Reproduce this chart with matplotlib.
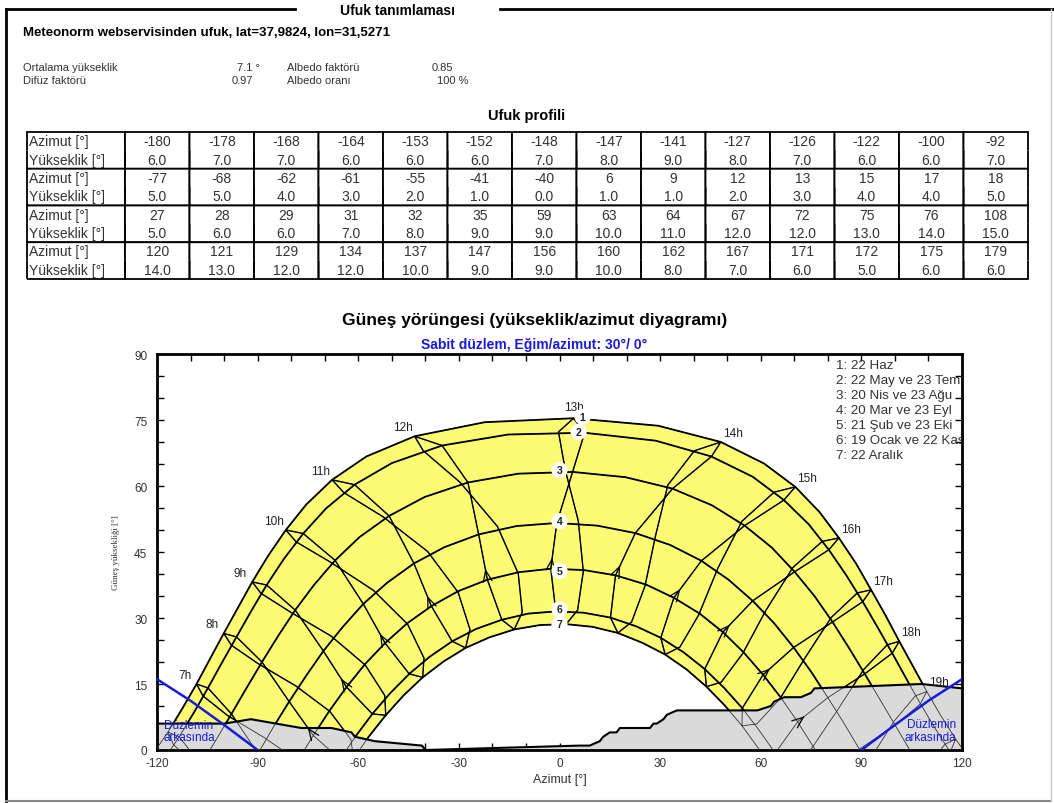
import numpy as np
import matplotlib.pyplot as plt
from matplotlib.patches import Polygon
from matplotlib.ticker import MultipleLocator

plt.rcParams['font.family'] = ['Liberation Sans', 'DejaVu Sans']
plt.rcParams['axes.unicode_minus'] = False

W, H = 1054, 804


def fx(px):
    return px / W


def fy(py):
    return 1 - py / H


# horizon profile table
hor_az = [-180, -178, -168, -164, -153, -152, -148, -147, -141, -127, -126, -122, -100, -92,
          -77, -68, -62, -61, -55, -41, -40, 6, 9, 12, 13, 15, 17, 18,
          27, 28, 29, 31, 32, 35, 59, 63, 64, 67, 72, 75, 76, 108,
          120, 121, 129, 134, 137, 147, 156, 160, 162, 167, 171, 172, 175, 179]
hor_el = [6, 7, 7, 6, 6, 6, 7, 8, 9, 8, 7, 6, 6, 7,
          5, 5, 4, 3, 2, 1, 0, 1, 1, 2, 3, 4, 4, 5,
          5, 6, 6, 7, 8, 9, 9, 10, 11, 12, 12, 13, 14, 15,
          14, 13, 12, 12, 10, 9, 9, 10, 8, 7, 6, 5, 6, 6]

# sun path, every half hour (legal time), first point at t0
jun_t0 = 5.0
jun_az = [-126.1, -121.3, -116.7, -112.4, -108.2, -104.2, -100.1, -95.9, -91.6, -86.9, -81.6, -75.5,
          -67.8, -57.6, -43.2, -22.3, 4.2, 29.4, 48.1, 61.0, 70.3, 77.5, 83.3, 88.4, 92.9, 97.2,
          101.3, 105.4, 109.5, 113.7, 118.1, 122.7, 127.6]
jun_el = [-6.0, -1.0, 4.1, 9.5, 15.0, 20.7, 26.5, 32.3, 38.2, 44.1, 50.0, 55.8, 61.4, 66.7, 71.3, 74.5,
          75.4, 73.7, 70.0, 65.1, 59.8, 54.1, 48.2, 42.4, 36.4, 30.6, 24.7, 19.0, 13.3, 7.8, 2.5, -2.6, -7.4]
may_t0 = 5.0
may_az = [-122.9, -118.1, -113.4, -109.0, -104.8, -100.6, -96.3, -91.9, -87.3, -82.2, -76.4, -69.6,
          -61.1, -50.0, -35.0, -15.3, 7.5, 28.7, 45.3, 57.6, 66.9, 74.3, 80.3, 85.6, 90.4, 94.9,
          99.2, 103.4, 107.6, 112.0, 116.5, 121.3]
may_el = [-7.5, -2.4, 3.0, 8.5, 14.1, 19.9, 25.7, 31.6, 37.5, 43.4, 49.2, 54.9, 60.3, 65.2, 69.2, 71.7,
          72.1, 70.3, 66.7, 62.1, 56.8, 51.3, 45.5, 39.6, 33.7, 27.8, 22.0, 16.2, 10.5, 4.9, -0.5, -5.6]
apr_t0 = 6.0
apr_az = [-106.9, -102.3, -97.8, -93.3, -88.7, -83.9, -78.8, -73.2, -66.9, -59.6, -50.8, -40.2, -27.3,
          -12.3, 3.9, 19.7, 33.7, 45.5, 55.2, 63.3, 70.1, 76.1, 81.4, 86.3, 91.0, 95.6, 100.1, 104.6, 109.3]
apr_el = [-3.3, 2.4, 8.2, 14.1, 20.0, 25.9, 31.8, 37.5, 43.1, 48.4, 53.2, 57.5, 60.8, 62.8, 63.2, 62.0,
          59.4, 55.6, 51.0, 46.0, 40.5, 34.9, 29.1, 23.2, 17.3, 11.4, 5.6, -0.2, -5.9]
mar_t0 = 6.5
mar_az = [-94.5, -89.9, -85.3, -80.6, -75.6, -70.4, -64.7, -58.5, -51.4, -43.4, -34.3, -24.1, -12.8,
          -0.8, 11.2, 22.6, 33.0, 42.3, 50.4, 57.6, 64.0, 69.8, 75.1, 80.0, 84.8, 89.4, 94.1]
mar_el = [-6.7, -0.8, 5.2, 11.0, 16.8, 22.5, 27.9, 33.2, 38.0, 42.4, 46.1, 49.0, 50.9, 51.6, 51.0, 49.3,
          46.6, 43.0, 38.7, 33.9, 28.8, 23.3, 17.7, 11.9, 6.1, 0.2, -5.7]
feb_t0 = 7.5
feb_az = [-78.0, -73.4, -68.6, -63.5, -58.0, -52.0, -45.4, -38.2, -30.2, -21.5, -12.2, -2.6, 7.2, 16.7,
          25.8, 34.1, 41.8, 48.7, 55.0, 60.7, 66.0, 71.0, 75.7, 80.3]
feb_el = [-2.4, 3.3, 8.9, 14.3, 19.5, 24.3, 28.8, 32.7, 36.1, 38.7, 40.4, 41.2, 40.9, 39.7, 37.6, 34.6,
          31.0, 26.8, 22.1, 17.1, 11.9, 6.4, 0.7, -5.1]
jan_t0 = 7.5
jan_az = [-69.8, -65.4, -60.7, -55.8, -50.5, -44.8, -38.7, -32.0, -24.9, -17.2, -9.3, -1.1, 7.2, 15.2,
          22.9, 30.2, 37.0, 43.3, 49.1, 54.5, 59.5, 64.3, 68.7]
jan_el = [-7.6, -2.1, 3.2, 8.2, 12.9, 17.3, 21.2, 24.7, 27.5, 29.6, 31.0, 31.5, 31.2, 30.1, 28.1, 25.5,
          22.2, 18.4, 14.1, 9.5, 4.5, -0.7, -6.1]
dec_t0 = 7.5
dec_az = [-65.8, -61.4, -56.8, -51.8, -46.5, -40.8, -34.6, -28.0, -20.9, -13.5, -5.8, 2.0, 9.8, 17.4,
          24.6, 31.5, 37.9, 43.8, 49.3, 54.4, 59.2, 63.7, 68.0]
dec_el = [-7.2, -1.9, 3.1, 7.9, 12.4, 16.5, 20.1, 23.2, 25.6, 27.4, 28.4, 28.6, 28.0, 26.6, 24.4, 21.7,
          18.3, 14.4, 10.1, 5.5, 0.5, -4.6, -10.0]

# second half of the year, hourly (only for the hour loops)
jul_t0 = 5
jul_az = [-124.7, -115.1, -106.3, -97.8, -89.0, -78.5, -64.3, -40.6, -0.3, 40.2, 64.0, 78.3, 88.8, 97.7,
          106.1, 114.9, 124.5]
jul_el = [-9.0, 1.2, 12.3, 23.8, 35.6, 47.3, 58.5, 68.0, 72.3, 68.0, 58.6, 47.4, 35.7, 23.9, 12.3, 1.3, -9.0]
aug_t0 = 5
aug_az = [-118.1, -108.1, -98.9, -89.8, -80.1, -68.3, -52.6, -29.6, 1.7, 32.3, 54.4, 69.6, 81.0, 90.7,
          99.7, 108.9]
aug_el = [-14.5, -3.7, 7.8, 19.6, 31.3, 42.7, 53.0, 60.8, 63.7, 60.2, 52.0, 41.5, 30.1, 18.3, 6.5, -4.9]
sep_t0 = 6
sep_az = [-97.5, -88.2, -78.7, -68.1, -55.5, -39.3, -18.5, 5.6, 28.6, 47.2, 61.5, 73.0, 83.0, 92.2, 101.7]
sep_el = [-8.9, 2.9, 14.6, 25.9, 36.3, 45.1, 50.8, 52.1, 48.6, 41.3, 31.7, 20.7, 9.2, -2.6, -14.4]
oct_t0 = 6
oct_az = [-87.0, -77.9, -68.5, -57.9, -45.3, -30.2, -12.3, 7.1, 25.5, 41.5, 54.6, 65.7, 75.3, 84.4]
oct_el = [-14.2, -2.5, 8.8, 19.3, 28.6, 35.8, 40.1, 40.6, 37.3, 30.7, 21.9, 11.6, 0.5, -11.2]
nov_t0 = 7
nov_az = [-71.2, -62.2, -52.1, -40.4, -26.7, -11.1, 5.4, 21.5, 35.9, 48.2, 58.8, 68.1]
nov_el = [-8.4, 2.4, 12.4, 20.9, 27.4, 31.3, 31.8, 29.1, 23.4, 15.4, 5.9, -4.6]

# plane horizon (tilt 30 deg, azimuth 0)
plane_az = [90, 100, 110, 120]
plane_el = [0, 5.7, 11.2, 16.1]

lab_az = [6.9, 5.7, 0, 0, 0, 0, 0]
lab_el = [75.7, 72.3, 63.6, 52.0, 40.7, 32.0, 28.6]
legend = ['1: 22 Haz', '2: 22 May ve 23 Tem', '3: 20 Nis ve 23 Ağu', '4: 20 Mar ve 23 Eyl',
          '5: 21 Şub ve 23 Eki', '6: 19 Ocak ve 22 Kas', '7: 22 Aralık']

day_curves = [(jun_az, jun_el), (may_az, may_el), (apr_az, apr_el), (mar_az, mar_el),
              (feb_az, feb_el), (jan_az, jan_el), (dec_az, dec_el)]
# calendar order for the hour loops (Jan -> Dec -> Jan)
loop_days = [(jan_t0, 0.5, jan_az, jan_el), (feb_t0, 0.5, feb_az, feb_el), (mar_t0, 0.5, mar_az, mar_el),
             (apr_t0, 0.5, apr_az, apr_el), (may_t0, 0.5, may_az, may_el), (jun_t0, 0.5, jun_az, jun_el),
             (jul_t0, 1, jul_az, jul_el), (aug_t0, 1, aug_az, aug_el), (sep_t0, 1, sep_az, sep_el),
             (oct_t0, 1, oct_az, oct_el), (nov_t0, 1, nov_az, nov_el), (dec_t0, 0.5, dec_az, dec_el),
             (jan_t0, 0.5, jan_az, jan_el)]


def at_hour(t0, step, az, el, h):
    i = (h - t0) / step
    if i < 0 or i >= len(az) or i != int(i):
        return np.nan, np.nan
    return az[int(i)], el[int(i)]


grey = '#333333'
blue = '#1a1adc'

fig = plt.figure(figsize=(10.54, 8.04), dpi=100)

# page frame
fig.add_artist(plt.Line2D([fx(6), fx(6)], [fy(10), fy(802)], color='black', lw=2))
fig.add_artist(plt.Line2D([fx(6), fx(295)], [fy(10), fy(10)], color='black', lw=2))
fig.add_artist(plt.Line2D([fx(500), fx(1054)], [fy(10), fy(10)], color='black', lw=2))
fig.add_artist(plt.Line2D([fx(6), fx(1051)], [fy(802), fy(802)], color='#888888', lw=1.5))
fig.add_artist(plt.Line2D([fx(1051), fx(1051)], [fy(10), fy(802)], color='#cccccc', lw=1))

fig.text(fx(397), fy(11), 'Ufuk tanımlaması', ha='center', va='center', fontsize=10, fontweight='bold')
fig.text(fx(23), fy(33), 'Meteonorm webservisinden ufuk, lat=37,9824, lon=31,5271',
         va='center', fontsize=9.5, fontweight='bold')
fig.text(fx(23), fy(68), 'Ortalama yükseklik', va='center', fontsize=8, color=grey)
fig.text(fx(237), fy(68), '7.1 °', va='center', fontsize=8, color=grey)
fig.text(fx(287), fy(68), 'Albedo faktörü', va='center', fontsize=8, color=grey)
fig.text(fx(432), fy(68), '0.85', va='center', fontsize=8, color=grey)
fig.text(fx(23), fy(81), 'Difüz faktörü', va='center', fontsize=8, color=grey)
fig.text(fx(232), fy(81), '0.97', va='center', fontsize=8, color=grey)
fig.text(fx(287), fy(81), 'Albedo oranı', va='center', fontsize=8, color=grey)
fig.text(fx(437), fy(81), '100 %', va='center', fontsize=8, color=grey)
fig.text(fx(527), fy(116), 'Ufuk profili', ha='center', va='center', fontsize=10.5, fontweight='bold')

# horizon table
tax = fig.add_axes([fx(27), fy(280), fx(1028) - fx(27), (280 - 133) / H])
tax.axis('off')
cells = []
for r in range(4):
    cells.append(['Azimut [°]'] + [str(v) for v in hor_az[r * 14:(r + 1) * 14]])
    cells.append(['Yükseklik [°]'] + ['%.1f' % v for v in hor_el[r * 14:(r + 1) * 14]])
widths = [98 / 1001] + [903 / 1001 / 14] * 14
tbl = tax.table(cellText=cells, colWidths=widths, bbox=[0, 0, 1, 1], cellLoc='center')
tbl.auto_set_font_size(False)
tbl.set_fontsize(10)
for (r, c), cell in tbl.get_celld().items():
    cell.visible_edges = 'LRT' if r % 2 == 0 else 'LRB'
    cell.set_linewidth(1.3)
    cell.set_snap(False)
    cell.get_text().set_color(grey)
    if c == 0:
        cell.PAD = 0.02
        cell._loc = 'left'
        cell.get_text().set_ha('left')

fig.text(fx(535), fy(321), 'Güneş yörüngesi (yükseklik/azimut diyagramı)', ha='center', va='center',
         fontsize=12.5, fontweight='bold')
fig.text(fx(534), fy(345), 'Sabit düzlem, Eğim/azimut: 30°/ 0°', ha='center', va='center',
         fontsize=10, fontweight='bold', color=blue)

ax = fig.add_axes([fx(157), fy(751), fx(962) - fx(157), (751 - 355) / H])
ax.set_xlim(-120, 120)
ax.set_ylim(0, 90)

# yellow band between 22 Jun and 22 Dec, grey horizon on top
ax.add_patch(Polygon(np.column_stack([jun_az + dec_az[::-1], jun_el + dec_el[::-1]]),
                     closed=True, fc='#fcfc74', ec='none', zorder=1))
ax.fill_between(hor_az, hor_el, 0, color='#dadada', lw=0, zorder=2)

# lines are thick above the horizon, thin behind it
clip = Polygon(np.column_stack([hor_az + [179, -180], hor_el + [90, 90]]), transform=ax.transData)

curves = []
for az, el in day_curves:
    curves.append((az, el, 1.3))
for h in range(5, 21):
    pts = np.array([at_hour(t0, st, az, el, h) for t0, st, az, el in loop_days])
    curves.append((pts[:, 0], pts[:, 1], 1.0))
    p0, p1 = pts[1], pts[2]
    if h > 6 and p0[1] > 0 and not np.isnan(p1[0]):
        ax.annotate('', xy=p0 + 0.3 * (p1 - p0), xytext=p0 + 0.12 * (p1 - p0),
                    arrowprops=dict(arrowstyle='->,head_length=0.8,head_width=0.32', lw=0.9, color='black'),
                    zorder=6)
for az, el, lw in curves:
    ax.plot(az, el, color=grey, lw=0.6, zorder=3)
    ln, = ax.plot(az, el, color='black', lw=lw, zorder=4)
    ln.set_clip_path(clip)

ax.plot(hor_az, hor_el, color='black', lw=1.5, zorder=5)

ax.plot(plane_az, plane_el, color=blue, lw=1.8, zorder=6)
ax.plot([-v for v in plane_az], plane_el, color=blue, lw=1.8, zorder=6)
ax.text(-118, 5.6, 'Düzlemin', fontsize=8.5, color=blue, va='center', zorder=6)
ax.text(-118, 2.9, 'arkasında', fontsize=8.5, color=blue, va='center', zorder=6)
ax.text(103.5, 5.8, 'Düzlemin', fontsize=8.5, color=blue, va='center', zorder=6, clip_on=True)
ax.text(103, 2.9, 'arkasında', fontsize=8.5, color=blue, va='center', zorder=6, clip_on=True)

for h in range(7, 20):
    a, e = at_hour(jun_t0, 0.5, jun_az, jun_el, h)
    dx = -8.6 if h < 13 else (8.6 if h > 13 else 0)
    dy = 6.5 if h != 13 else 8
    ax.annotate('%dh' % h, (a, e), xytext=(dx, dy), textcoords='offset points', ha='center', va='center',
                fontsize=8.5, color='#222222', zorder=7)

for i in range(7):
    ax.text(lab_az[i], lab_el[i], str(i + 1), ha='center', va='center', fontsize=7.5, fontweight='bold',
            color='#222222', zorder=8, bbox=dict(boxstyle='circle,pad=0.3', fc='white', ec='none'))

for i, s in enumerate(legend):
    ax.text(0.844, 0.972 - i * 0.0379, s, transform=ax.transAxes, fontsize=9.6, color=grey,
            va='center', clip_on=True, zorder=8)

ax.xaxis.set_major_locator(MultipleLocator(30))
ax.xaxis.set_minor_locator(MultipleLocator(10))
ax.yaxis.set_major_locator(MultipleLocator(15))
ax.yaxis.set_minor_locator(MultipleLocator(5))
ax.tick_params(which='both', direction='in', top=True, right=True, length=5, width=1, labelsize=8.5,
               labelcolor=grey)
ax.tick_params(axis='x', pad=5)
ax.tick_params(axis='y', pad=7)
for s in ax.spines.values():
    s.set_linewidth(2)
ax.set_xlabel('Azimut [°]', fontsize=9, color=grey, labelpad=3)
ax.set_ylabel('Güneş yüksekliği [°]', fontsize=6.5, family='Liberation Serif', color=grey, labelpad=10)

fig.savefig('out.png', dpi=100)
